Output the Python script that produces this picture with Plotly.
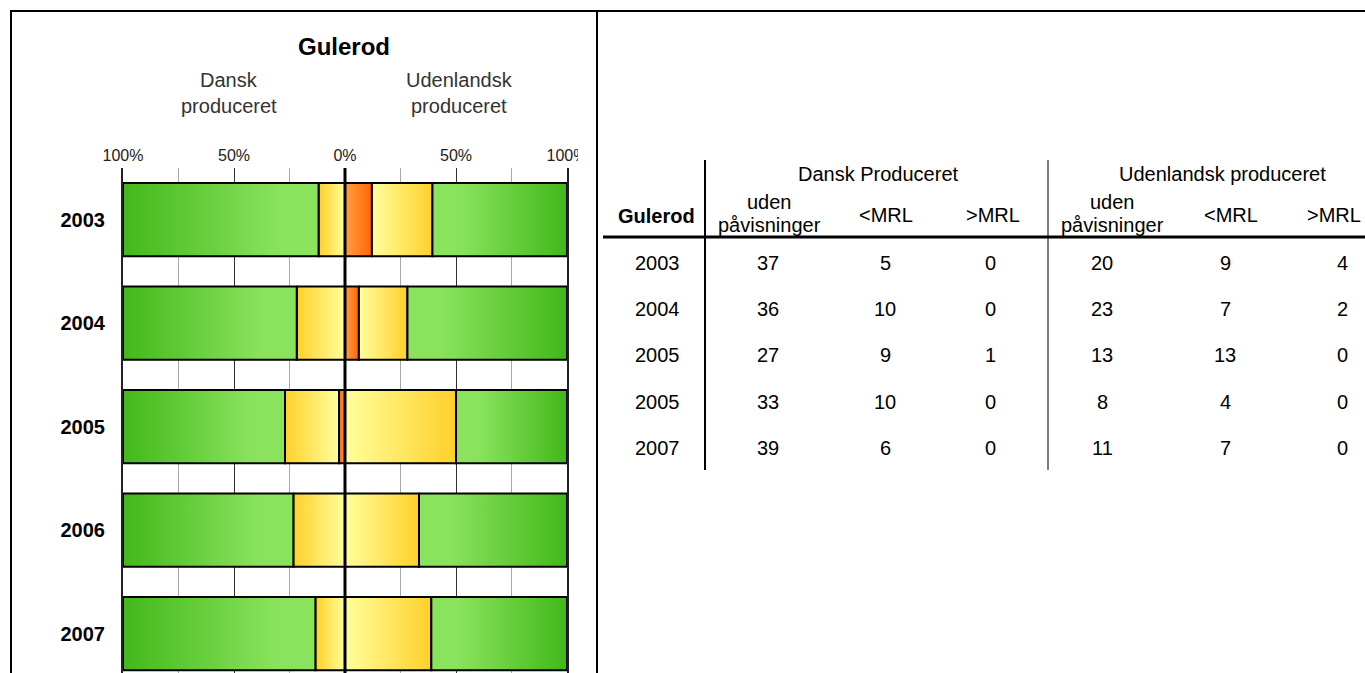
import plotly.graph_objects as go

# ---------------- data ----------------
CHART_YEARS = ["2003", "2004", "2005", "2006", "2007"]
TABLE_YEARS = ["2003", "2004", "2005", "2005", "2007"]
DK_UDEN = [37, 36, 27, 33, 39]
DK_LT = [5, 10, 9, 10, 6]
DK_GT = [0, 0, 1, 0, 0]
UL_UDEN = [20, 23, 13, 8, 11]
UL_LT = [9, 7, 13, 4, 7]
UL_GT = [4, 2, 0, 0, 0]

TICK_VALS = [-100, -50, 0, 50, 100]
TICK_TEXT = ["100%", "50%", "0%", "50%", "100%"]
MINOR_VALS = [-75, -25, 25, 75]

CHART_TITLE = "Gulerod"
SIDE_LABELS = [["Dansk", "produceret"], ["Udenlandsk", "produceret"]]
GROUP_HEADERS = ["Dansk Produceret", "Udenlandsk produceret"]
SUB_HEADERS = [["uden", "påvisninger"], ["<MRL"], [">MRL"],
               ["uden", "påvisninger"], ["<MRL"], [">MRL"]]

# ---------------- styles ----------------
W, H = 1365, 673
FONT = "Liberation Sans, Arial, sans-serif"
HALF = 0.354

GREEN_D, GREEN_L = "#42B81A", "#8AE35D"
YEL_D, YEL_L = "#FFD02A", "#FFFF9C"
OR_D, OR_L = "#FF6408", "#FFA040"


def px(x):
    return x / W


def py(y):
    return 1 - y / H


fig = go.Figure()


def add_seg(x0, x1, i, scale):
    if abs(x1 - x0) < 1e-9:
        return
    fig.add_trace(go.Scatter(
        x=[x0, x1, x1, x0, x0],
        y=[i - HALF, i - HALF, i + HALF, i + HALF, i - HALF],
        mode="lines", fill="toself",
        line=dict(color="black", width=2),
        fillgradient=dict(type="horizontal", colorscale=scale),
        hoverinfo="skip", showlegend=False))


for i in range(len(CHART_YEARS)):
    dt = DK_UDEN[i] + DK_LT[i] + DK_GT[i]
    ut = UL_UDEN[i] + UL_LT[i] + UL_GT[i]
    d_gt = 100 * DK_GT[i] / dt
    d_lt = 100 * DK_LT[i] / dt
    u_gt = 100 * UL_GT[i] / ut
    u_lt = 100 * UL_LT[i] / ut
    # Dansk (left side, outer = more negative)
    add_seg(-d_gt, 0, i, [[0, OR_D], [1, OR_L]])
    add_seg(-d_gt - d_lt, -d_gt, i, [[0, YEL_D], [1, YEL_L]])
    add_seg(-100, -d_gt - d_lt, i, [[0, GREEN_D], [0.8, GREEN_L], [1, GREEN_L]])
    # Udenlandsk (right side)
    add_seg(0, u_gt, i, [[0, OR_L], [1, OR_D]])
    add_seg(u_gt, u_gt + u_lt, i, [[0, YEL_L], [1, YEL_D]])
    add_seg(u_gt + u_lt, 100, i, [[0, GREEN_L], [0.2, GREEN_L], [1, GREEN_D]])

y_top_px = 168
y_bottom_val = len(CHART_YEARS) - 1 + (H - (219.5 + 103.5 * 4)) / 103.5

fig.update_layout(
    width=W, height=H,
    margin=dict(l=0, r=0, t=0, b=0),
    paper_bgcolor="white", plot_bgcolor="white",
    showlegend=False,
    xaxis=dict(
        domain=[px(123), px(567)], range=[-100, 100], side="top",
        tickvals=TICK_VALS, ticktext=TICK_TEXT, ticks="",
        tickfont=dict(family=FONT, size=16, color="#222"),
        ticklabelstandoff=3,
        showgrid=True, gridcolor="#303030", gridwidth=1,
        minor=dict(tickvals=MINOR_VALS, showgrid=True, gridcolor="#A8A8A8", gridwidth=1),
        zeroline=False, showline=False, fixedrange=True, automargin=False),
    yaxis=dict(
        domain=[0, py(y_top_px)], range=[y_bottom_val, -0.5],
        tickvals=list(range(len(CHART_YEARS))), ticktext=CHART_YEARS, ticks="",
        tickfont=dict(family=FONT, size=20, color="black", weight="bold"),
        ticklabelstandoff=12,
        showgrid=False, zeroline=False,
        showline=True, mirror=True, linecolor="#222", linewidth=2, fixedrange=True,
        automargin=False),
)

shapes = []
# zero line across bars
shapes.append(dict(type="line", xref="x", yref="paper", x0=0, x1=0, y0=0, y1=py(y_top_px),
                   line=dict(color="black", width=3), layer="above"))
# clip right 100% label like cell edge
shapes.append(dict(type="rect", xref="paper", yref="paper", x0=px(578), x1=px(596),
                   y0=py(166), y1=py(140), fillcolor="white", line=dict(width=0), layer="above"))
# frame
shapes.append(dict(type="line", xref="paper", yref="paper", x0=px(10), x1=1, y0=py(11), y1=py(11),
                   line=dict(color="black", width=2), layer="above"))
shapes.append(dict(type="line", xref="paper", yref="paper", x0=px(11), x1=px(11), y0=py(10), y1=0,
                   line=dict(color="black", width=2), layer="above"))
shapes.append(dict(type="line", xref="paper", yref="paper", x0=px(597), x1=px(597), y0=py(10), y1=0,
                   line=dict(color="black", width=2), layer="above"))
# table lines
shapes.append(dict(type="line", xref="paper", yref="paper", x0=px(705), x1=px(705), y0=py(160), y1=py(470),
                   line=dict(color="black", width=2)))
shapes.append(dict(type="line", xref="paper", yref="paper", x0=px(1048), x1=px(1048), y0=py(160), y1=py(470),
                   line=dict(color="black", width=1)))
shapes.append(dict(type="line", xref="paper", yref="paper", x0=px(603), x1=1, y0=py(237), y1=py(237),
                   line=dict(color="black", width=3)))
fig.update_layout(shapes=shapes)

ann = []


def txt(x, y, s, size=20, bold=False, color="black"):
    ann.append(dict(xref="paper", yref="paper", x=px(x), y=py(y), text=s, showarrow=False,
                    xanchor="center", yanchor="middle",
                    font=dict(family=FONT, size=size, color=color,
                              weight="bold" if bold else "normal")))


# chart headings
txt(344, 47, CHART_TITLE, size=24, bold=True)
for cx, lines in zip([229, 459], SIDE_LABELS):
    txt(cx, 80, lines[0], size=20, color="#333")
    txt(cx, 106, lines[1], size=20, color="#333")

# table
txt(878, 174, GROUP_HEADERS[0])
txt(1222, 174, GROUP_HEADERS[1])
txt(656, 216, CHART_TITLE, bold=True)
HEAD_X = [769, 886, 993, 1112, 1231, 1334]
for hx, lines in zip(HEAD_X, SUB_HEADERS):
    if len(lines) == 2:
        txt(hx, 202, lines[0])
        txt(hx, 225, lines[1])
    else:
        txt(hx, 215, lines[0])

ROW_Y = [263, 309, 355, 402, 448]
COL_X = [657, 768, 885, 990, 1102, 1225, 1342]
for r in range(len(TABLE_YEARS)):
    vals = [TABLE_YEARS[r], DK_UDEN[r], DK_LT[r], DK_GT[r], UL_UDEN[r], UL_LT[r], UL_GT[r]]
    for cx, v in zip(COL_X, vals):
        txt(cx, ROW_Y[r], str(v))

fig.update_layout(annotations=ann)
fig.write_html("out.html")
